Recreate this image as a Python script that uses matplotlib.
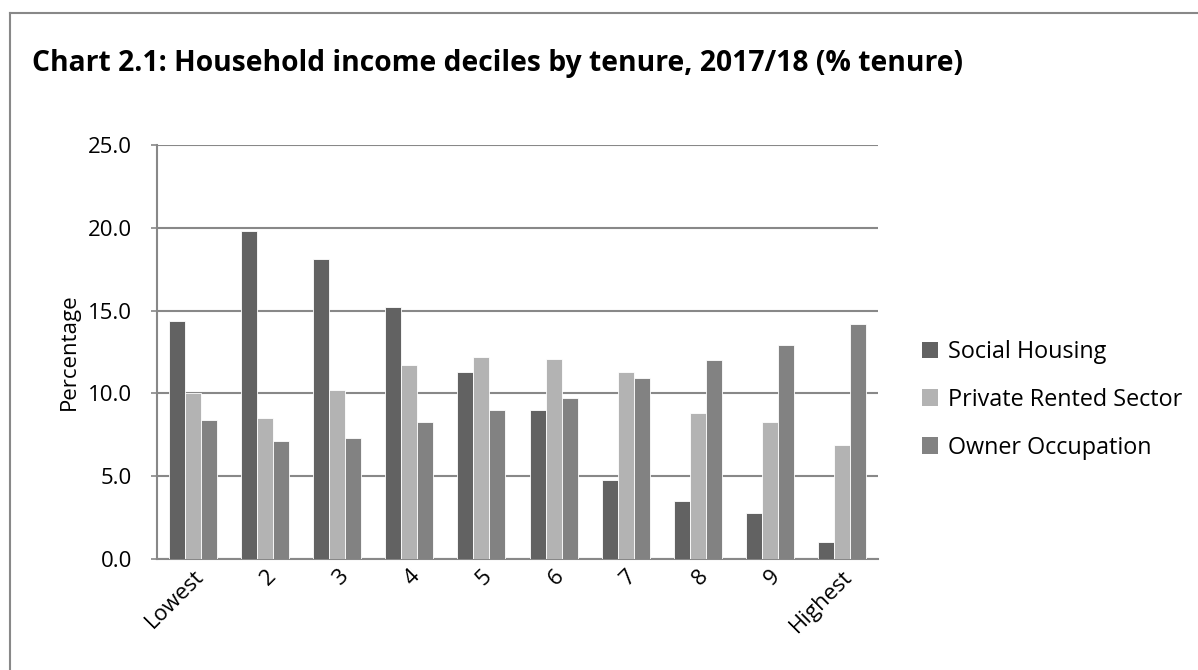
import numpy as np
import matplotlib
matplotlib.use("Agg")
import matplotlib.pyplot as plt
from matplotlib.lines import Line2D
from matplotlib.patches import Patch

plt.rcParams["font.family"] = ["Open Sans", "DejaVu Sans"]

deciles = ["Lowest", "2", "3", "4", "5", "6", "7", "8", "9", "Highest"]
social_housing = [14.4, 19.8, 18.1, 15.2, 11.3, 9.0, 4.8, 3.5, 2.8, 1.0]
private_rented = [10.0, 8.5, 10.2, 11.7, 12.2, 12.1, 11.3, 8.8, 8.3, 6.9]
owner_occupation = [8.4, 7.1, 7.3, 8.3, 9.0, 9.7, 10.9, 12.0, 12.9, 14.2]

series_names = ["Social Housing", "Private Rented Sector", "Owner Occupation"]
colors = ["#626262", "#b3b3b3", "#828282"]
grid_col = "#888888"

fig = plt.figure(figsize=(11.98, 6.7), dpi=100)
W, H = 1198, 670

# outer chart frame (only left and top edges fall inside the picture)
fig.add_artist(Line2D([10 / W, 10 / W], [0, 1 - 13 / H], color=grid_col, lw=1.5))
fig.add_artist(Line2D([10 / W, 1], [1 - 13 / H, 1 - 13 / H], color=grid_col, lw=1.5))

ax = fig.add_axes([157 / W, 1 - 559 / H, (878 - 157) / W, (559 - 145) / H])

x = np.arange(len(deciles))
width = 0.222
for i, (vals, c) in enumerate(zip([social_housing, private_rented, owner_occupation], colors)):
    ax.bar(x + (i - 1) * width, vals, width, color=c, edgecolor="white", linewidth=0.6, zorder=3)

ax.set_xlim(-0.5, len(deciles) - 0.5)
ax.set_ylim(0, 25)
ticks = np.arange(0, 25.1, 5)
ax.set_yticks(ticks)
ax.set_yticklabels([f"{v:.1f}" for v in ticks], fontsize=16)
ax.yaxis.grid(True, color=grid_col, lw=1.5, zorder=0)
ax.set_xticks(x)
ax.set_xticklabels(deciles, rotation=45, ha="right", rotation_mode="anchor", fontsize=16)
ax.tick_params(axis="x", length=0, pad=5)
ax.tick_params(axis="y", length=4, color=grid_col, width=1.2, pad=14)
for side in ["top", "right"]:
    ax.spines[side].set_visible(False)
for side in ["left", "bottom"]:
    ax.spines[side].set_color(grid_col)
    ax.spines[side].set_linewidth(1.5)
ax.set_ylabel("Percentage", fontsize=16, labelpad=6)

fig.text(32 / W, 1 - 63 / H, "Chart 2.1: Household income deciles by tenure, 2017/18 (% tenure)",
         fontsize=20.3, fontweight="bold", va="center", ha="left")

handles = [Patch(facecolor=c, edgecolor="none") for c in colors]
fig.legend(handles, series_names, loc="upper left", bbox_to_anchor=(901 / W, 1 - 319 / H),
           frameon=False, fontsize=16.8, handlelength=0.7, handleheight=0.7,
           handletextpad=0.4, labelspacing=1.02)

fig.savefig("out.png", dpi=100)
